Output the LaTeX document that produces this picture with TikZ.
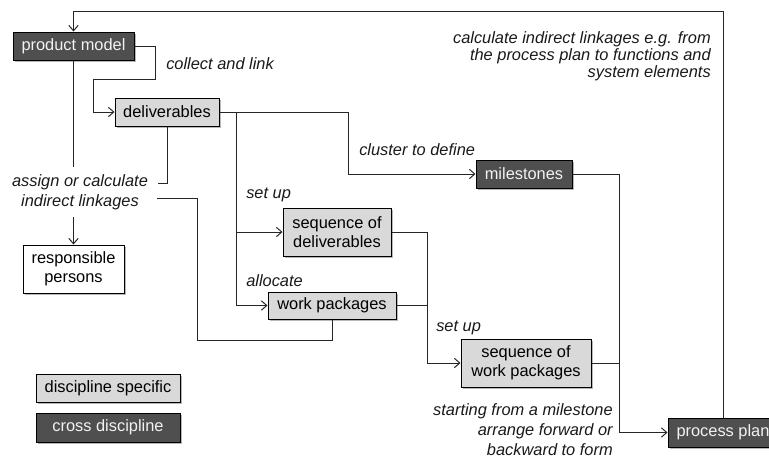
\documentclass[tikz,border=0pt]{standalone}
\usepackage{fontspec}
\setmainfont{Liberation Sans}
\usetikzlibrary{shadows,arrows.meta}
\definecolor{darkbox}{HTML}{4F4F4F}
\definecolor{lightbox}{HTML}{D9D9D9}
\definecolor{linecol}{HTML}{262626}
\begin{document}
\begin{tikzpicture}[x=0.75pt,y=-0.75pt,
  every node/.style={font=\fontsize{12.3}{14.6}\selectfont},
  basebox/.style={draw=black, line width=0.75pt, inner sep=0pt, align=center,
    drop shadow={shadow xshift=1.6pt, shadow yshift=-1.6pt, fill=black, opacity=0.28}},
  darkbx/.style={basebox, fill=darkbox, text=white!95!black},
  lightbx/.style={basebox, fill=lightbox, text=black},
  whitebx/.style={basebox, fill=white, text=black},
  lbl/.style={font=\fontsize{12.3}{15.3}\selectfont\itshape, inner sep=0pt, text=black!90},
  conn/.style={draw=linecol, line width=0.75pt},
  arr/.style={conn, -{Straight Barb[length=4pt,width=7pt,line width=0.75pt]}}]
\useasboundingbox (0,0) rectangle (769,457);
% boxes
\node[darkbx, minimum width=90.75pt, minimum height=21pt] (pm) at (73.5,46) {product model};
\node[lightbx, minimum width=78pt, minimum height=21pt] (del) at (167,112) {deliverables};
\node[whitebx, minimum width=75.75pt, minimum height=36pt] (rp) at (73.5,269) {responsible\\persons};
\node[lightbx, minimum width=81pt, minimum height=36pt] (seqd) at (337,232) {sequence of\\deliverables};
\node[lightbx, minimum width=96pt, minimum height=20.25pt] (wp) at (332,305.5) {work packages};
\node[darkbx, minimum width=72pt, minimum height=21pt] (ms) at (524,174) {milestones};
\node[lightbx, minimum width=97.5pt, minimum height=36pt] (seqw) at (526,363) {sequence of\\work packages};
\node[darkbx, minimum width=82.5pt, minimum height=21.75pt] (pp) at (723,432.5) {process plan};
\node[lightbx, minimum width=108pt, minimum height=21pt] (ds) at (108,388) {discipline specific};
\node[darkbx, minimum width=108pt, minimum height=21.75pt] (cd) at (108,427.5) {cross discipline};
% labels
\node[lbl, anchor=west] (lcollect) at (166,64) {collect and link};
\node[lbl, anchor=west] (lcluster) at (359,150) {cluster to define};
\node[lbl, anchor=west] (lsetup1) at (246,195) {set up};
\node[lbl, anchor=west] (lalloc) at (246,281) {allocate};
\node[lbl, anchor=west] (lsetup2) at (436,328) {set up};
\node[lbl, align=center] (lassign) at (80,192) {assign or calculate\\indirect linkages};
\node[lbl, align=right, anchor=north east, font=\fontsize{12.3}{12.75}\selectfont\itshape] (lcalc) at (711,31) {calculate indirect linkages e.g. from\\the process plan to functions and\\system elements};
\node[lbl, align=right, anchor=north east, font=\fontsize{12.3}{15}\selectfont\itshape] (lstart) at (613,403) {starting from a milestone\\arrange forward or\\backward to form};
% coordinates
\coordinate (c1) at (155,46);
\coordinate (c2) at (155,79);
\coordinate (c3) at (93,79);
\coordinate (top) at (723,11);
\coordinate (pmend) at (73.5,167);
\coordinate (rpstart) at (73.5,217);
\coordinate (delA) at (167,183);
\coordinate (delB) at (158,183);
\coordinate (asA) at (157,198);
\coordinate (asB) at (197,198);
\coordinate (asC) at (197,340);
\coordinate (asD) at (332,340);
\coordinate (brA) at (236,112);
\coordinate (brB) at (236,232);
\coordinate (msA) at (348,112);
\coordinate (vA) at (427,232);
\coordinate (vB) at (619,174);
% connectors
\draw[arr] (pp.north) -- (top) -| (pm.north);
\draw[arr] (pm.east) -- (c1) -- (c2) -- (c3) |- (del.west);
\draw[conn] (pm.south) -- (pmend);
\draw[arr] (rpstart) -- (rp.north);
\draw[conn] (del.south) -- (delA) -- (delB);
\draw[conn] (asA) -- (asB) -- (asC) -- (asD) -- (wp.south);
\draw[arr] (del.east) -- (msA) |- (ms.west);
\draw[arr] (brA) -- (brB) -- (seqd.west);
\draw[arr] (brB) |- (wp.west);
\draw[arr] (seqd.east) -- (vA) |- (seqw.west);
\draw[conn] (wp.east) -- (wp.east -| vA);
\draw[arr] (ms.east) -- (vB) |- (pp.west);
\draw[conn] (seqw.east) -- (seqw.east -| vB);
\end{tikzpicture}
\end{document}
